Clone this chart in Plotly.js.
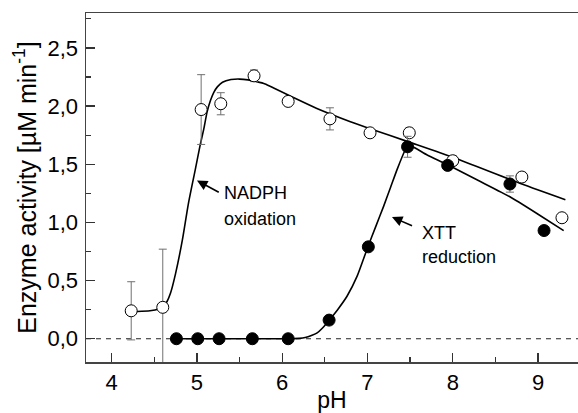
<!DOCTYPE html>
<html>
<head>
<meta charset="utf-8">
<script src="https://cdn.plot.ly/plotly-3.0.1.min.js"></script>
<style>html,body{margin:0;padding:0;background:#fff;}#chart{width:578px;height:413px;}</style>
</head>
<body>
<div id="chart"></div>
<script>
// NADPH oxidation (open circles)
var nadphX   = [4.23, 4.60, 5.05, 5.28, 5.67, 6.07, 6.56, 7.03, 7.49, 8.00, 8.81, 9.28];
var nadphY   = [0.24, 0.27, 1.97, 2.02, 2.26, 2.04, 1.89, 1.77, 1.77, 1.53, 1.39, 1.04];
var nadphErr = [0.25, 0.50, 0.30, 0.095, 0.05, 0.03, 0.095, 0.03, 0.04, 0.04, 0.04, 0.02];
// XTT reduction (filled circles)
var xttX   = [4.76, 5.01, 5.26, 5.65, 6.07, 6.55, 7.01, 7.47, 7.94, 8.67, 9.07];
var xttY   = [0, 0, 0, 0, 0, 0.16, 0.79, 1.65, 1.49, 1.33, 0.93];
var xttErr = [0, 0, 0, 0, 0, 0.02, 0.03, 0.09, 0.02, 0.07, 0];
// fitted curves
var nadphFitX = [4.16, 4.30, 4.45, 4.55, 4.61, 4.65, 4.69, 4.75, 4.83, 4.90, 4.98, 5.04, 5.08, 5.12, 5.16, 5.20, 5.24, 5.30, 5.40, 5.50, 5.60, 5.70, 5.80, 5.90, 6.10, 6.40, 6.80, 7.03, 7.49, 8.00, 8.81, 9.32];
var nadphFitY = [0.232, 0.234, 0.240, 0.255, 0.28, 0.32, 0.39, 0.56, 0.85, 1.16, 1.45, 1.67, 1.80, 1.95, 2.05, 2.12, 2.165, 2.205, 2.228, 2.232, 2.225, 2.21, 2.19, 2.155, 2.085, 1.982, 1.866, 1.806, 1.69, 1.56, 1.33, 1.195];
var xttFitX = [4.76, 5.0, 5.5, 6.0, 6.2, 6.27, 6.35, 6.41, 6.47, 6.54, 6.65, 6.76, 6.88, 7.0, 7.1, 7.19, 7.27, 7.35, 7.44, 7.475, 7.7, 7.94, 8.3, 8.67, 9.0, 9.30];
var xttFitY = [0, 0, 0, 0, 0.003, 0.01, 0.03, 0.05, 0.09, 0.15, 0.25, 0.365, 0.54, 0.78, 0.97, 1.14, 1.30, 1.46, 1.62, 1.666, 1.58, 1.495, 1.36, 1.22, 1.07, 0.929];
var xTicks = [4, 5, 6, 7, 8, 9];
var yTicks = [0, 0.5, 1, 1.5, 2, 2.5];

var FONT = '"Liberation Sans", Arial, sans-serif';
var errStyle = {type: 'data', visible: true, color: '#707070', thickness: 1, width: 4};

var traces = [
  {x: nadphFitX, y: nadphFitY, mode: 'lines', line: {color: '#000', width: 1.6, shape: 'spline', smoothing: 0.6}, hoverinfo: 'skip', showlegend: false},
  {x: xttFitX, y: xttFitY, mode: 'lines', line: {color: '#000', width: 1.6, shape: 'spline', smoothing: 0.6}, hoverinfo: 'skip', showlegend: false},
  {x: nadphX, y: nadphY, mode: 'markers', name: 'NADPH oxidation',
   error_y: Object.assign({array: nadphErr}, errStyle),
   marker: {symbol: 'circle', size: 12, color: '#fff', line: {color: '#000', width: 1}}, showlegend: false},
  {x: xttX, y: xttY, mode: 'markers', name: 'XTT reduction',
   error_y: Object.assign({array: xttErr}, errStyle),
   marker: {symbol: 'circle', size: 12, color: '#000', line: {color: '#000', width: 1}}, showlegend: false}
];

var layout = {
  width: 578, height: 413,
  margin: {l: 86, r: 0, t: 13, b: 51, pad: 0},
  paper_bgcolor: '#fff', plot_bgcolor: '#fff',
  separators: ', ',
  font: {family: FONT, color: '#000', size: 22},
  showlegend: false,
  xaxis: {
    range: [3.7, 9.468], tickvals: xTicks, ticktext: xTicks.map(String),
    ticks: 'inside', ticklen: 9, tickwidth: 1.3, tickcolor: '#333',
    minor: {dtick: 0.5, tick0: 0, ticks: 'inside', ticklen: 5, tickwidth: 1.3, tickcolor: '#333'},
    showline: true, linecolor: '#444', linewidth: 1.5, mirror: true,
    showgrid: false, zeroline: false,
    tickfont: {size: 22, family: FONT},
    title: {text: 'pH', font: {size: 23, family: FONT}, standoff: 0}
  },
  yaxis: {
    range: [-0.2, 2.8], tickvals: yTicks, tickformat: '.1f',
    ticks: 'inside', ticklen: 9, tickwidth: 1.3, tickcolor: '#333',
    minor: {dtick: 0.25, tick0: 0, ticks: 'inside', ticklen: 5, tickwidth: 1.3, tickcolor: '#333'},
    showline: true, linecolor: '#444', linewidth: 1.5, mirror: false,
    showgrid: false, zeroline: false,
    tickfont: {size: 22, family: FONT},
    ticklabelstandoff: 2,
    title: {text: 'Enzyme activity [µM min<sup>-1</sup>]', font: {size: 25, family: FONT}, standoff: 4}
  },
  shapes: [
    {type: 'line', xref: 'paper', x0: 0, x1: 1, yref: 'y', y0: 0, y1: 0,
     line: {color: '#222', width: 1.2, dash: '5px,5px'}, layer: 'below'}
  ],
  annotations: [
    {x: 5.001, y: 1.36, ax: 5.274, ay: 1.252, axref: 'x', ayref: 'y', xref: 'x', yref: 'y',
     showarrow: true, arrowhead: 2, arrowsize: 1.3, arrowwidth: 1.6, arrowcolor: '#000', text: ''},
    {x: 7.287, y: 1.046, ax: 7.54, ay: 0.966, axref: 'x', ayref: 'y', xref: 'x', yref: 'y',
     showarrow: true, arrowhead: 2, arrowsize: 1.3, arrowwidth: 1.6, arrowcolor: '#000', text: ''},
    {x: 5.30, y: 1.255, xref: 'x', yref: 'y', xanchor: 'left', yanchor: 'middle', showarrow: false,
     text: 'NADPH', font: {size: 18, family: FONT, color: '#000'}},
    {x: 5.30, y: 1.03, xref: 'x', yref: 'y', xanchor: 'left', yanchor: 'middle', showarrow: false,
     text: 'oxidation', font: {size: 18, family: FONT, color: '#000'}},
    {x: 7.61, y: 0.91, xref: 'x', yref: 'y', xanchor: 'left', yanchor: 'middle', showarrow: false,
     text: 'XTT', font: {size: 18, family: FONT, color: '#000'}},
    {x: 7.61, y: 0.70, xref: 'x', yref: 'y', xanchor: 'left', yanchor: 'middle', showarrow: false,
     text: 'reduction', font: {size: 18, family: FONT, color: '#000'}}
  ]
};

Plotly.newPlot('chart', traces, layout, {displayModeBar: false, staticPlot: true});
</script>
</body>
</html>
